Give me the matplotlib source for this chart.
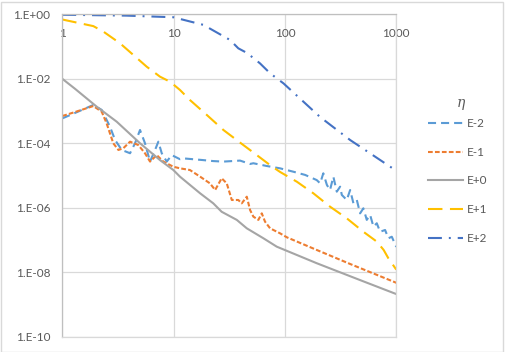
import matplotlib
matplotlib.use("Agg")
import matplotlib.pyplot as plt
from matplotlib.patches import Rectangle

# ---------------- data ----------------
series_labels = ["E-2", "E-1", "E+0", "E+1", "E+2"]
legend_title = "η"

x_em2 = [1, 1.30, 1.90, 2.26, 2.68, 2.98, 3.42, 4.06, 4.50, 4.99, 5.53, 6.14, 6.81,
         7.29, 7.82, 8.67, 9.61, 11.4, 12.2, 18.5, 22.7, 28.0, 39.5, 48.6, 52, 68.7,
         90.3, 119, 152, 193, 207, 221, 238, 254, 272, 292, 313, 324, 359, 385, 412,
         442, 473, 506, 543, 582, 623, 668, 715, 793, 849, 911, 1000]
y_em2 = [5.9e-4, 8.7e-4, 1.54e-3, 1.08e-3, 3.27e-4, 1.26e-4, 6.2e-5, 4.9e-5, 1.0e-4,
         2.58e-4, 1.0e-4, 2.7e-5, 6.2e-5, 1.12e-4, 4.9e-5, 2.7e-5, 4.3e-5, 3.2e-5,
         3.4e-5, 3.0e-5, 2.8e-5, 2.7e-5, 2.9e-5, 2.28e-5, 2.4e-5, 1.97e-5, 1.67e-5,
         1.31e-5, 1.04e-5, 7.2e-6, 5.7e-6, 1.17e-5, 5.1e-6, 3.55e-6, 9.2e-6, 3.15e-6,
         4.5e-6, 2.5e-6, 1.74e-6, 3.55e-6, 1.37e-6, 1.74e-6, 6.7e-7, 9.6e-7, 4.2e-7,
         6.0e-7, 2.6e-7, 3.3e-7, 1.8e-7, 2.04e-7, 1.13e-7, 1.26e-7, 6.1e-8]

x_em1 = [1, 1.30, 1.90, 2.26, 2.50, 2.87, 3.19, 3.53, 4.06, 4.82, 5.53, 6.14, 7.05,
         8.08, 9.94, 11.4, 14.0, 17.3, 21.2, 23.6, 27.0, 30.0, 33.3, 38.1, 40.9, 45.4,
         48.6, 52.0, 57.7, 61.9, 66.2, 73.5, 90.3, 104, 193, 385, 1000]
y_em1 = [7.0e-4, 9.3e-4, 1.43e-3, 9.5e-4, 4.16e-4, 1.0e-4, 6.2e-5, 7.0e-5, 1.12e-4,
         8.8e-5, 4.9e-5, 2.7e-5, 4.3e-5, 2.7e-5, 1.87e-5, 1.67e-5, 1.48e-5, 9.2e-6,
         5.7e-6, 3.55e-6, 8.2e-6, 5.7e-6, 1.74e-6, 1.74e-6, 1.37e-6, 2.2e-6, 8.5e-7,
         5.3e-7, 4.2e-7, 6.7e-7, 3.7e-7, 2.3e-7, 1.61e-7, 1.21e-7, 4.9e-8, 1.8e-8,
         4.7e-9]

x_e0 = [1, 1.30, 2.04, 3.08, 4.99, 7.55, 9.94, 11.4, 17.3, 22.7, 27.0, 36.9, 45.4,
        64.0, 84.4, 193, 473, 1000]
y_e0 = [1.0e-2, 4.9e-3, 1.36e-3, 4.67e-4, 1.0e-4, 3.0e-5, 1.48e-5, 9.2e-6, 2.8e-6,
        1.37e-6, 7.5e-7, 4.2e-7, 2.3e-7, 1.13e-7, 6.2e-8, 1.9e-8, 5.7e-9, 2.1e-9]

x_ep1 = [1, 1.90, 2.34, 3.30, 4.34, 5.73, 7.55, 9.29, 11.4, 14.0, 19.9, 28.0, 39.5,
         55.8, 73.5, 90.3, 128, 180, 254, 359, 506, 668, 770, 849, 1000]
y_ep1 = [0.69, 0.43, 0.29, 0.126, 0.055, 0.0237, 0.0116, 0.0081, 0.0045, 2.2e-3,
         7.5e-4, 2.58e-4, 1.05e-4, 4.3e-5, 2.1e-5, 1.29e-5, 6.4e-6, 2.8e-6, 1.08e-6,
         4.7e-7, 1.8e-7, 8.9e-8, 4.9e-8, 2.7e-8, 1.2e-8]

x_ep2 = [1, 3.79, 9.94, 18.5, 32.1, 38.1, 45.7, 52, 59.7, 73.5, 97, 207, 385, 1000]
y_ep2 = [0.97, 0.91, 0.81, 0.47, 0.16, 0.088, 0.063, 0.044, 0.030, 0.0148, 7.2e-3,
         6.5e-4, 1.26e-4, 1.4e-5]

x_ticks = [1, 10, 100, 1000]
x_tick_labels = ["1", "10", "100", "1000"]
y_ticks = [1e-10, 1e-8, 1e-6, 1e-4, 1e-2, 1e0]
y_tick_labels = ["1.E-10", "1.E-08", "1.E-06", "1.E-04", "1.E-02", "1.E+00"]

# ---------------- style ----------------
plt.rcParams['lines.scale_dashes'] = False
plt.rcParams['font.family'] = ['Lato', 'DejaVu Sans']
txt_color = '#595959'
grid_color = '#D9D9D9'
axis_color = '#BFBFBF'

fig = plt.figure(figsize=(5.05, 3.52), dpi=100)
W, H = 505.0, 352.0
left, right, top, bottom = 62.3, 396.3, 14.3, 336.7
ax = fig.add_axes([left / W, 1 - bottom / H, (right - left) / W, (bottom - top) / H])
ax.set_xscale('log')
ax.set_yscale('log')
ax.set_xlim(1, 1000)
ax.set_ylim(1e-10, 1)

lw = 1.5
styles = [
    dict(color='#5B9BD5', linestyle=(0, (5.8, 3.6))),
    dict(color='#ED7D31', linestyle=(0, (3.4, 1.6))),
    dict(color='#A5A5A5', linestyle='-'),
    dict(color='#FFC000', linestyle=(0, (10.4, 5.4))),
    dict(color='#4472C4', linestyle=(0, (10.0, 5.0, 1.4, 5.0))),
]
data = [(x_em2, y_em2), (x_em1, y_em1), (x_e0, y_e0), (x_ep1, y_ep1), (x_ep2, y_ep2)]
for (xs, ys), st, lab in zip(data, styles, series_labels):
    ax.plot(xs, ys, lw=lw, label=lab, clip_on=True, **st)

ax.set_xticks(x_ticks)
ax.set_xticklabels(x_tick_labels)
ax.set_xticks([], minor=True)
ax.set_yticks(y_ticks)
ax.set_yticklabels(y_tick_labels)
ax.set_yticks([], minor=True)
ax.grid(True, which='major', color=grid_color, lw=0.9)
ax.set_axisbelow(True)
ax.tick_params(axis='x', length=0, labelbottom=False, labeltop=True, pad=-17.5,
               labelsize=8.5, labelcolor=txt_color)
ax.tick_params(axis='y', length=0, pad=8.5, labelsize=8.5, labelcolor=txt_color)
ax.spines['left'].set_color(axis_color)
ax.spines['top'].set_color(axis_color)
ax.spines['right'].set_color(grid_color)
ax.spines['bottom'].set_color(grid_color)
for s in ax.spines.values():
    s.set_linewidth(0.9)

leg = fig.legend(loc='upper left', bbox_to_anchor=(428 / W, 1 - 118 / H),
                 frameon=False, fontsize=8.5, handlelength=3.0, handletextpad=0.3,
                 labelspacing=1.5, borderpad=0, borderaxespad=0)
for t in leg.get_texts():
    t.set_color(txt_color)

fig.text(461 / W, 1 - 103 / H, legend_title, ha='center', va='center',
         color=txt_color, fontsize=10, family='DejaVu Serif', style='italic')

fig.patches.append(Rectangle((0.5 / W, 0.5 / H), (W - 3) / W, (H - 2) / H,
                             transform=fig.transFigure, fill=False,
                             edgecolor=grid_color, lw=1.0))

fig.savefig('out.png', dpi=100)
